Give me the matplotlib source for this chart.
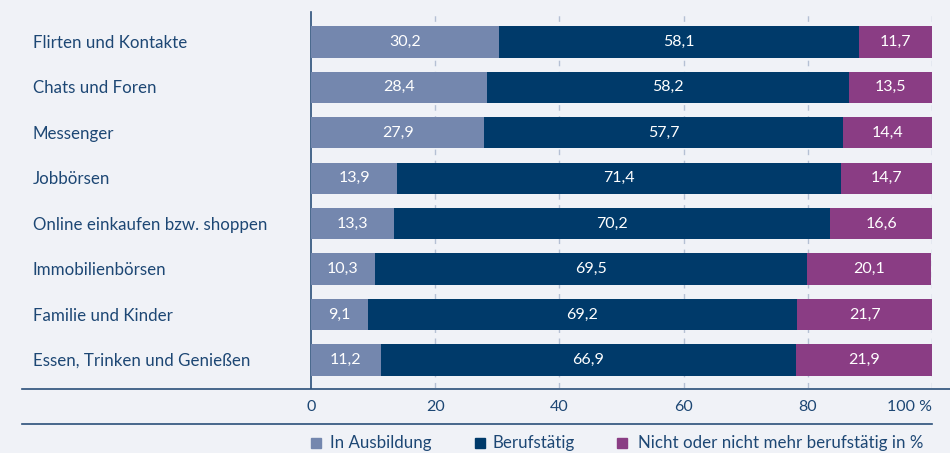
import matplotlib
matplotlib.use("Agg")
import matplotlib.pyplot as plt
from matplotlib.lines import Line2D
from matplotlib.patches import Rectangle

categories = ["Flirten und Kontakte", "Chats und Foren", "Messenger", "Jobbörsen",
              "Online einkaufen bzw. shoppen", "Immobilienbörsen", "Familie und Kinder",
              "Essen, Trinken und Genießen"]
ausbildung = [30.2, 28.4, 27.9, 13.9, 13.3, 10.3, 9.1, 11.2]
berufstaetig = [58.1, 58.2, 57.7, 71.4, 70.2, 69.5, 69.2, 66.9]
nicht = [11.7, 13.5, 14.4, 14.7, 16.6, 20.1, 21.7, 21.9]
series_names = ["In Ausbildung", "Berufstätig", "Nicht oder nicht mehr berufstätig in %"]
xticks = [0, 20, 40, 60, 80, 100]
xticklabels = ["0", "20", "40", "60", "80", "100 %"]

colors = ["#7487ae", "#003a6a", "#8a3d84"]
bg = "#f0f2f7"
txt = "#1d4774"
font = "Lato"

W, H = 950, 453
fig = plt.figure(figsize=(W / 100, H / 100), dpi=100, facecolor=bg)
ax = fig.add_axes([311 / W, 1 - 388 / H, (932 - 311) / W, (388 - 12) / H])
ax.set_facecolor(bg)

y = list(range(len(categories)))
left = [0] * len(categories)
for vals, c in zip([ausbildung, berufstaetig, nicht], colors):
    ax.barh(y, vals, left=left, height=0.69, color=c, zorder=3)
    for yi, v, l in zip(y, vals, left):
        ax.text(l + v / 2, yi, f"{v:.1f}".replace(".", ","), ha="center", va="center",
                color="white", fontsize=11.5, family=font, zorder=4)
    left = [a + b for a, b in zip(left, vals)]

ax.set_xlim(0, 100)
ax.set_ylim(7.62, -0.66)
for x in xticks[1:]:
    ax.axvline(x, color="#b5c0d4", lw=1, ls=(0, (4, 4)), zorder=1)

for s in ["top", "right", "bottom"]:
    ax.spines[s].set_visible(False)
ax.spines["left"].set_color("#2a4f7a")
ax.spines["left"].set_linewidth(1.2)
ax.set_xticks([])
ax.set_yticks([])

for yi, c in zip(y, categories):
    fig.text(33 / W, 1 - (43 + yi * 45.43) / H, c, ha="left", va="center",
             color=txt, fontsize=12.2, family=font)

for xt, lab in zip(xticks, xticklabels):
    px = 311 + xt * 6.21
    ha = "center"
    if xt == 100:
        ha = "right"
        px = 932
    fig.text(px / W, 1 - 407 / H, lab, ha=ha, va="center", color=txt, fontsize=11.5, family=font)

fig.add_artist(Line2D([22 / W, 1], [1 - 388.5 / H] * 2, color="#2a4f7a", lw=1.2))
fig.add_artist(Line2D([22 / W, 932 / W], [1 - 423.5 / H] * 2, color="#2a4f7a", lw=1.2))

leg_sq_x = [311, 475, 617]
leg_txt_x = [330, 493, 638]
ly = 443
for c, name, sx, tx in zip(colors, series_names, leg_sq_x, leg_txt_x):
    fig.add_artist(Rectangle((sx / W, 1 - (ly + 5) / H), 10 / W, 10 / H, color=c,
                             transform=fig.transFigure))
    fig.text(tx / W, 1 - ly / H, name, ha="left", va="center", color=txt,
             fontsize=12.2, family=font)

fig.savefig("out.png", dpi=100, facecolor=bg)
